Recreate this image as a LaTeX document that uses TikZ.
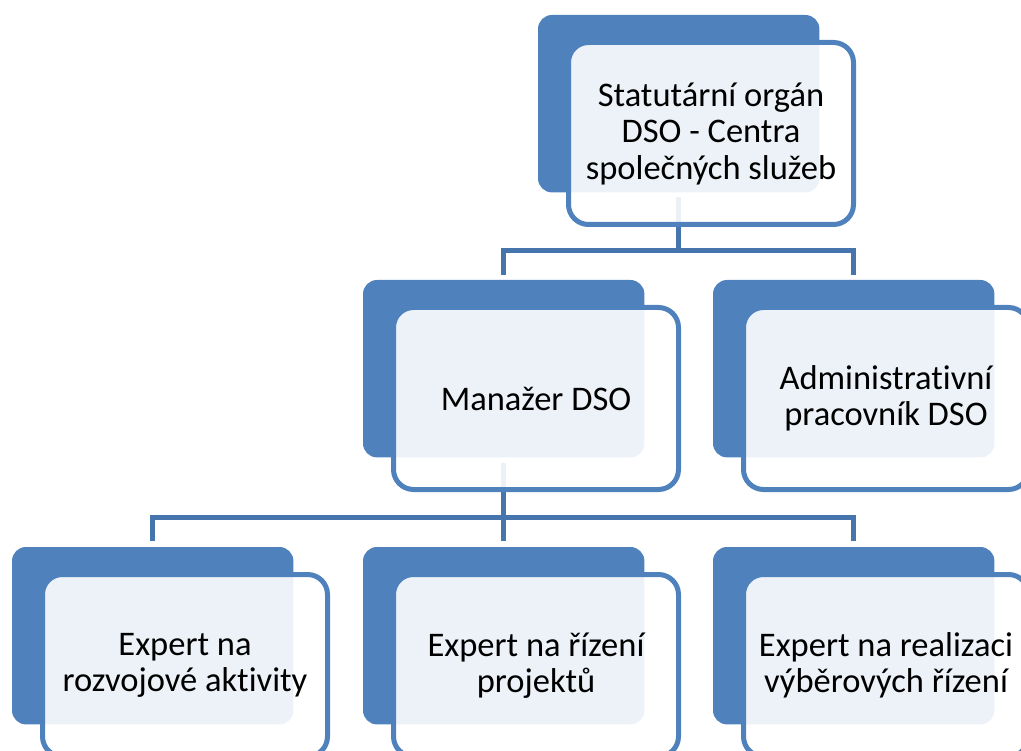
\documentclass[tikz,border=0pt]{standalone}
\usepackage{fontspec}
\setmainfont{Carlito}[Ligatures=NoCommon]
\definecolor{accent}{HTML}{4F81BD}
\definecolor{connc}{HTML}{4674AC}
\begin{document}
\begin{tikzpicture}[x=1pt,y=1pt,
  backbox/.style={draw=none, minimum width=281pt, minimum height=177pt, anchor=north west, inner sep=0pt},
  backfill/.style={fill=accent, rounded corners=14pt},
  frontbox/.style={fill=white, fill opacity=0.9, text opacity=1, draw=accent, line width=5pt, rounded corners=20pt, minimum width=285pt, minimum height=182pt, anchor=north west, inner sep=0pt, align=center, font=\fontsize{34.5}{36.5}\selectfont},
  conn/.style={draw=connc, line width=5.5pt}]
\useasboundingbox (0,0) rectangle (1021,-751);
\clip (0,0) rectangle (1021,-751);
% back box frames
\node[backbox] (b1) at (538,-15) {};
\node[backbox] (b2) at (363,-280) {};
\node[backbox] (b3) at (713,-280) {};
\node[backbox] (b4) at (12,-547) {};
\node[backbox] (b5) at (363,-547) {};
\node[backbox] (b6) at (713,-547) {};
% connectors
\draw[conn] ([yshift=-5pt]b1.south) -- ++(0,-53) -| ([yshift=5pt]b2.north);
\draw[conn] ([yshift=-5pt]b1.south) -- ++(0,-53) -| ([yshift=5pt]b3.north);
\draw[conn] ([yshift=-6pt]b2.south) -- ++(0,-54) -| ([yshift=6pt]b4.north);
\draw[conn] ([yshift=-6pt]b2.south) -- ++(0,-54) -| ([yshift=6pt]b5.north);
\draw[conn] ([yshift=-6pt]b2.south) -- ++(0,-54) -| ([yshift=6pt]b6.north);
% back box fills
\fill[backfill] (b1.north west) rectangle (b1.south east);
\fill[backfill] (b2.north west) rectangle (b2.south east);
\fill[backfill] (b3.north west) rectangle (b3.south east);
\fill[backfill] (b4.north west) rectangle (b4.south east);
\fill[backfill] (b5.north west) rectangle (b5.south east);
\fill[backfill] (b6.north west) rectangle (b6.south east);
% front boxes
\node[frontbox] (f1) at ([shift={(28,-25)}]b1.north west) {Statutární orgán\\DSO - Centra\\společných služeb};
\node[frontbox] (f2) at ([shift={(28,-25)}]b2.north west) {Manažer DSO};
\node[frontbox] (f3) at ([shift={(28,-25)}]b3.north west) {Administrativní\\pracovník DSO};
\node[frontbox] (f4) at ([shift={(28,-25)}]b4.north west) {Expert na\\rozvojové aktivity};
\node[frontbox] (f5) at ([shift={(28,-25)}]b5.north west) {Expert na řízení\\projektů};
\node[frontbox] (f6) at ([shift={(28,-25)}]b6.north west) {Expert na realizaci\\výběrových řízení};
\end{tikzpicture}
\end{document}
